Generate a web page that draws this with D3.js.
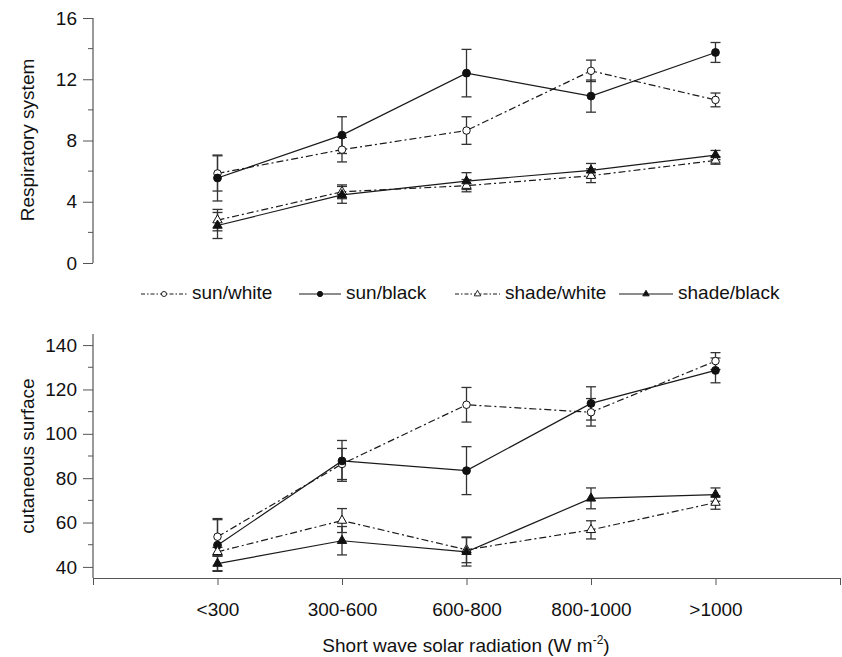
<!DOCTYPE html>
<html>
<head>
<meta charset="utf-8">
<script src="https://cdn.jsdelivr.net/npm/d3@7"></script>
<style>
  body { margin: 0; background: #fff; }
  svg text { font-family: "Liberation Sans", Arial, sans-serif; fill: #111; }
</style>
</head>
<body>
<div id="chart"></div>
<script>
// chart size
const width = 842;
const height = 657;

// categories on the x axis
const categories = ["<300", "300-600", "600-800", "800-1000", ">1000"];

// respiratory system (top panel), means and error
const respSunWhite = [5.85, 7.4, 8.65, 12.55, 10.65];
const respSunWhiteErr = [1.15, 0.8, 0.9, 0.7, 0.45];
const respSunBlack = [5.55, 8.35, 12.4, 10.9, 13.75];
const respSunBlackErr = [1.5, 1.2, 1.55, 1.05, 0.65];
const respShadeWhite = [2.8, 4.65, 5.05, 5.7, 6.7];
const respShadeWhiteErr = [0.7, 0.45, 0.4, 0.45, 0.25];
const respShadeBlack = [2.45, 4.45, 5.35, 6.05, 7.05];
const respShadeBlackErr = [0.85, 0.55, 0.55, 0.45, 0.3];

// cutaneous surface (bottom panel), means and error
const cutSunWhite = [53.6, 86.4, 113.1, 109.7, 132.8];
const cutSunWhiteErr = [8.2, 7, 7.8, 6.2, 3.8];
const cutSunBlack = [49.8, 87.8, 83.4, 113.7, 128.6];
const cutSunBlackErr = [11.5, 9.2, 10.8, 7.5, 5.6];
const cutShadeWhite = [46.8, 60.9, 47.7, 56.7, 69];
const cutShadeWhiteErr = [2, 5.4, 5.8, 4.1, 3];
const cutShadeBlack = [41.5, 51.8, 46.8, 70.9, 72.6];
const cutShadeBlackErr = [3.5, 6.4, 6.4, 4.7, 3];

// tick values
const respTicks = [0, 4, 8, 12, 16];
const respMinor = [2, 6, 10, 14];
const cutTicks = [40, 60, 80, 100, 120, 140];
const cutMinor = [50, 70, 90, 110, 130];

const seriesNames = ["sun/white", "sun/black", "shade/white", "shade/black"];

const svg = d3.select("#chart")
  .append("svg")
  .attr("width", width)
  .attr("height", height);

// x scale: index -1..5 so categories sit inside the axis
const xScale = d3.scaleLinear()
  .domain([-1, 5])
  .range([93, 840]);

const yResp = d3.scaleLinear().domain([0, 16]).range([263, 18]);
const yCut = d3.scaleLinear().domain([35, 145]).range([578, 334]);

const dashDot = "7,3,2,3";
const lineColor = "#1a1a1a";

// style for each series
const styles = [
  {dash: dashDot, shape: "circle", fill: "#fff"},
  {dash: null, shape: "circle", fill: "#111"},
  {dash: dashDot, shape: "triangle", fill: "#fff"},
  {dash: null, shape: "triangle", fill: "#111"}
];

function drawYAxis(yScale, ticks, minor, top, bottom) {
  // major ticks + labels
  const g = svg.append("g").attr("transform", "translate(93,0)");
  g.call(d3.axisLeft(yScale).tickValues(ticks).tickSize(10).tickPadding(6).tickSizeOuter(0));
  g.select(".domain").remove();
  g.selectAll(".tick line").attr("stroke", "#555");
  g.selectAll("text").attr("font-size", "19px").attr("fill", "#111");
  // minor ticks
  g.selectAll(".minor")
    .data(minor)
    .enter()
    .append("line")
      .attr("x1", -5).attr("x2", 0)
      .attr("y1", d => yScale(d)).attr("y2", d => yScale(d))
      .attr("stroke", "#555");
  // axis line
  g.append("line")
    .attr("x1", 0).attr("x2", 0)
    .attr("y1", yScale(top)).attr("y2", yScale(bottom))
    .attr("stroke", "#555").attr("stroke-width", 1.2);
}

function drawPanel(yScale, means, errs) {
  means.forEach((vals, s) => {
    // error bars
    const eg = svg.append("g").attr("stroke", "#333").attr("stroke-width", 1.3);
    vals.forEach((v, i) => {
      const x = xScale(i);
      const y1 = yScale(v + errs[s][i]);
      const y2 = yScale(v - errs[s][i]);
      eg.append("line").attr("x1", x).attr("x2", x).attr("y1", y1).attr("y2", y2);
      eg.append("line").attr("x1", x - 5).attr("x2", x + 5).attr("y1", y1).attr("y2", y1);
      eg.append("line").attr("x1", x - 5).attr("x2", x + 5).attr("y1", y2).attr("y2", y2);
    });
  });
  means.forEach((vals, s) => {
    const st = styles[s];
    const line = d3.line()
      .x((d, i) => xScale(i))
      .y(d => yScale(d));
    svg.append("path")
      .datum(vals)
      .attr("d", line)
      .attr("fill", "none")
      .attr("stroke", lineColor)
      .attr("stroke-width", 1.2)
      .attr("stroke-dasharray", st.dash);
  });
  means.forEach((vals, s) => {
    const st = styles[s];
    svg.append("g").selectAll("path")
      .data(vals)
      .enter()
      .append("path")
        .attr("d", st.shape === "circle"
          ? d3.symbol().type(d3.symbolCircle).size(st.fill === "#fff" ? 44 : 48)()
          : d3.symbol().type(d3.symbolTriangle).size(38)())
        .attr("transform", (d, i) => `translate(${xScale(i)},${yScale(d)})`)
        .attr("fill", st.fill)
        .attr("stroke", "#111")
        .attr("stroke-width", 1);
  });
}

// top panel
drawYAxis(yResp, respTicks, respMinor, 16, 0);
drawPanel(yResp,
  [respSunWhite, respSunBlack, respShadeWhite, respShadeBlack],
  [respSunWhiteErr, respSunBlackErr, respShadeWhiteErr, respShadeBlackErr]);

// bottom panel
drawYAxis(yCut, cutTicks, cutMinor, 145, 35);
drawPanel(yCut,
  [cutSunWhite, cutSunBlack, cutShadeWhite, cutShadeBlack],
  [cutSunWhiteErr, cutSunBlackErr, cutShadeWhiteErr, cutShadeBlackErr]);

// x axis (bottom panel only)
const xAxis = svg.append("g")
  .attr("transform", `translate(0,${yCut(35)})`)
  .call(d3.axisBottom(xScale)
    .tickValues(d3.range(-1, 6))
    .tickSize(7)
    .tickPadding(18)
    .tickSizeOuter(0)
    .tickFormat(i => categories[i] || ""));
xAxis.select(".domain").attr("stroke", "#555").attr("stroke-width", 1.2);
xAxis.selectAll(".tick line").attr("stroke", "#555");
xAxis.selectAll("text").attr("font-size", "19px").attr("fill", "#111");

// axis titles
svg.append("text")
  .attr("transform", "translate(34,140) rotate(-90)")
  .attr("text-anchor", "middle")
  .attr("font-size", "19px")
  .text("Respiratory system");

svg.append("text")
  .attr("transform", "translate(34,456) rotate(-90)")
  .attr("text-anchor", "middle")
  .attr("font-size", "19px")
  .text("cutaneous surface");

const xTitle = svg.append("text")
  .attr("x", 466)
  .attr("y", 652)
  .attr("text-anchor", "middle")
  .attr("font-size", "19px");
xTitle.append("tspan").text("Short wave solar radiation (W m");
xTitle.append("tspan").attr("font-size", "12px").attr("dy", -8).text("-2");
xTitle.append("tspan").attr("dy", 8).text(")");

// legend
const legendX = [141, 299, 455, 619];
const legendW = [46, 42, 45, 54];
const legendY = 294;
seriesNames.forEach((name, s) => {
  const st = styles[s];
  const g = svg.append("g");
  g.append("line")
    .attr("x1", legendX[s]).attr("x2", legendX[s] + legendW[s])
    .attr("y1", legendY).attr("y2", legendY)
    .attr("stroke", lineColor)
    .attr("stroke-width", 1.2)
    .attr("stroke-dasharray", st.dash ? "4,2,1.5,2" : null);
  g.append("path")
    .attr("d", st.shape === "circle"
      ? d3.symbol().type(d3.symbolCircle).size(st.fill === "#fff" ? 20 : 22)()
      : d3.symbol().type(d3.symbolTriangle).size(18)())
    .attr("transform", `translate(${legendX[s] + legendW[s] / 2},${legendY})`)
    .attr("fill", st.fill)
    .attr("stroke", "#111")
    .attr("stroke-width", 0.9);
  g.append("text")
    .attr("x", legendX[s] + legendW[s] + 5)
    .attr("y", legendY + 5)
    .attr("font-size", "19px")
    .text(name);
});
</script>
</body>
</html>
